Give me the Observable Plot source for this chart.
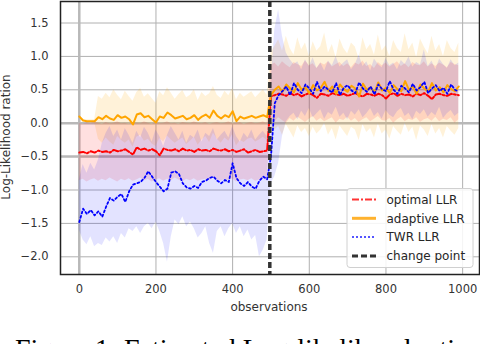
<!DOCTYPE html>
<html><head><meta charset="utf-8">
<script src="https://cdn.jsdelivr.net/npm/d3@7"></script>
<script src="https://cdn.jsdelivr.net/npm/@observablehq/plot@0.6"></script>
<style>
body{margin:0;background:#fff;width:480px;height:344px;overflow:hidden;}
#cap{font-family:"Liberation Serif",serif;font-size:28px;line-height:28px;margin:15px 0 0 15px;white-space:nowrap;color:#000;}
</style></head><body><div id="chart"></div><div id="cap">Figure 1: Estimated Log-likelihood ratio</div>
<script>
// observation index (sampled every 10 observations)
const obs = d3.range(0, 1000, 10);
const changePoint = 497;
const xTicks = [0, 200, 400, 600, 800, 1000];
const yTicks = [-2.0, -1.5, -1.0, -0.5, 0.0, 0.5, 1.0, 1.5];
const seriesNames = ["optimal LLR", "adaptive LLR", "TWR LLR", "change point"];

const optimal = [
-0.44,-0.43,-0.45,-0.42,-0.44,-0.41,-0.43,-0.42,-0.44,-0.40,
-0.42,-0.41,-0.39,-0.43,-0.47,-0.36,-0.40,-0.38,-0.41,-0.39,
-0.42,-0.48,-0.38,-0.40,-0.41,-0.39,-0.42,-0.38,-0.41,-0.40,
-0.43,-0.39,-0.41,-0.40,-0.42,-0.38,-0.40,-0.41,-0.39,-0.42,
-0.40,-0.43,-0.41,-0.39,-0.44,-0.42,-0.40,-0.43,-0.42,-0.41,
0.40,0.42,0.44,0.43,0.41,0.45,0.42,0.44,0.40,0.43,
0.45,0.42,0.38,0.44,0.43,0.41,0.45,0.43,0.42,0.44,
0.41,0.43,0.45,0.42,0.40,0.44,0.43,0.41,0.44,0.42,
0.37,0.43,0.45,0.41,0.44,0.42,0.43,0.40,0.44,0.42,
0.45,0.41,0.36,0.43,0.44,0.42,0.41,0.44,0.43,0.42];
const optimalLo = [
-0.86,-0.84,-0.88,-0.85,-0.83,-0.87,-0.84,-0.86,-0.82,-0.85,
-0.88,-0.84,-0.86,-0.83,-0.87,-0.85,-0.82,-0.86,-0.84,-0.88,
-0.85,-0.83,-0.87,-0.84,-0.86,-0.82,-0.85,-0.88,-0.84,-0.86,
-0.83,-0.87,-0.85,-0.84,-0.86,-0.82,-0.85,-0.87,-0.84,-0.86,
-0.83,-0.88,-0.85,-0.84,-0.86,-0.83,-0.87,-0.85,-0.84,-0.86,
0.06,0.02,0.08,0.04,0.00,0.07,0.03,0.09,0.05,0.01,
0.06,0.10,0.03,0.07,0.02,0.05,0.08,0.00,0.06,0.04,
0.09,0.03,0.07,0.01,0.05,0.08,0.02,0.06,0.10,0.04,
0.03,0.07,0.00,0.05,0.09,0.02,0.06,0.04,0.08,0.01,
0.05,0.07,0.03,0.09,0.02,0.06,0.04,0.08,0.00,0.05];
const optimalHi = [
0.00,-0.02,0.01,-0.01,0.02,0.00,-0.02,0.01,-0.01,0.00,
0.02,-0.01,0.00,-0.02,0.01,0.00,-0.01,0.02,0.00,-0.02,
0.01,-0.01,0.00,0.02,-0.01,0.00,-0.02,0.01,0.00,-0.01,
0.02,0.00,-0.01,0.01,-0.02,0.00,0.01,-0.01,0.00,0.02,
-0.01,0.00,0.01,-0.02,0.00,0.01,-0.01,0.00,0.02,-0.01,
0.86,0.90,0.84,0.92,0.87,0.83,0.91,0.88,0.85,0.93,
0.86,0.89,0.82,0.90,0.87,0.92,0.84,0.88,0.91,0.85,
0.89,0.83,0.90,0.87,0.93,0.85,0.88,0.82,0.91,0.86,
0.90,0.84,0.88,0.92,0.85,0.89,0.83,0.91,0.87,0.86,
0.92,0.84,0.89,0.85,0.90,0.87,0.83,0.91,0.88,0.86];

const adaptive = [
0.10,0.04,0.03,0.03,0.03,0.09,0.06,0.11,0.07,0.05,
0.12,0.08,0.10,0.06,-0.02,0.13,0.15,0.09,0.11,0.06,
0.01,0.10,0.08,0.16,0.12,0.07,0.09,0.11,0.06,0.08,
0.12,0.05,0.10,0.13,0.08,0.19,0.11,0.07,0.12,0.09,
0.18,0.03,0.10,0.07,0.09,0.11,0.08,0.10,0.12,0.09,
0.42,0.50,0.55,0.47,0.58,0.52,0.46,0.60,0.50,0.54,
0.45,0.57,0.49,0.53,0.62,0.48,0.55,0.44,0.58,0.51,
0.47,0.56,0.52,0.40,0.59,0.50,0.54,0.46,0.61,0.49,
0.53,0.45,0.57,0.51,0.48,0.63,0.50,0.55,0.44,0.58,
0.52,0.47,0.60,0.49,0.54,0.46,0.57,0.51,0.48,0.55];
const adaptiveLo = [
0.08,0.02,0.01,0.01,0.01,-0.24,-0.30,-0.22,-0.28,-0.33,
-0.20,-0.26,-0.30,-0.25,-0.36,-0.21,-0.18,-0.27,-0.24,-0.31,
-0.35,-0.23,-0.28,-0.19,-0.25,-0.30,-0.26,-0.22,-0.32,-0.27,
-0.21,-0.33,-0.25,-0.20,-0.29,-0.15,-0.24,-0.30,-0.22,-0.27,
-0.17,-0.34,-0.26,-0.29,-0.24,-0.22,-0.28,-0.25,-0.21,-0.26,
-0.15,-0.10,-0.05,-0.18,-0.02,-0.12,-0.22,-0.04,-0.14,-0.08,
-0.20,-0.06,-0.16,-0.10,0.00,-0.18,-0.08,-0.25,-0.04,-0.12,
-0.20,-0.06,-0.10,-0.26,-0.02,-0.14,-0.08,-0.22,-0.01,-0.16,
-0.10,-0.24,-0.05,-0.12,-0.18,0.00,-0.14,-0.06,-0.26,-0.04,
-0.10,-0.20,-0.02,-0.16,-0.08,-0.22,-0.05,-0.12,-0.18,-0.08];
const adaptiveHi = [
0.12,0.06,0.05,0.05,0.05,0.40,0.36,0.45,0.38,0.50,
0.42,0.35,0.48,0.40,0.33,0.46,0.52,0.39,0.44,0.37,
0.30,0.47,0.41,0.53,0.45,0.36,0.43,0.49,0.38,0.42,
0.50,0.34,0.46,0.40,0.44,0.55,0.42,0.37,0.48,0.41,
0.52,0.35,0.45,0.39,0.43,0.47,0.38,0.44,0.50,0.42,
1.05,1.15,1.25,1.08,1.30,1.12,1.02,1.28,1.10,1.20,
1.00,1.22,1.08,1.15,1.35,1.05,1.18,0.98,1.26,1.12,
1.04,1.20,1.14,0.96,1.28,1.10,1.18,1.02,1.32,1.08,
1.16,1.00,1.24,1.12,1.06,1.34,1.10,1.20,0.98,1.26,
1.14,1.04,1.30,1.08,1.18,1.00,1.24,1.12,1.06,1.20];

const twr = [
-1.48,-1.28,-1.36,-1.30,-1.38,-1.32,-1.40,-1.25,-1.12,-1.16,
-1.10,-1.06,-1.18,-1.02,-0.92,-0.90,-0.88,-0.82,-0.72,-0.80,
-0.88,-0.95,-1.02,-0.98,-0.74,-0.72,-0.76,-0.90,-0.96,-0.98,
-0.94,-0.97,-0.88,-0.86,-0.82,-0.80,-0.86,-0.90,-0.85,-0.88,
-0.60,-0.82,-0.90,-0.94,-0.88,-0.95,-0.98,-0.86,-0.80,-0.84,
-0.50,0.30,0.42,0.48,0.55,0.42,0.60,0.50,0.45,0.58,
0.52,0.44,0.62,0.48,0.55,0.50,0.46,0.60,0.42,0.53,
0.57,0.49,0.45,0.61,0.52,0.47,0.55,0.43,0.58,0.51,
0.48,0.63,0.50,0.44,0.56,0.52,0.46,0.59,0.49,0.54,
0.62,0.45,0.52,0.57,0.48,0.53,0.44,0.58,0.50,0.47];
const twrLo = [
-1.60,-1.75,-1.82,-1.70,-1.85,-1.80,-1.83,-1.72,-1.78,-1.70,
-1.80,-1.65,-1.72,-1.58,-1.62,-1.55,-1.65,-1.55,-1.50,-1.58,
-1.48,-1.62,-1.80,-2.08,-1.70,-1.45,-1.52,-1.40,-1.55,-1.48,
-1.58,-1.72,-1.65,-1.55,-1.80,-1.95,-1.62,-1.55,-1.70,-1.58,
-1.50,-1.65,-1.55,-1.70,-1.60,-1.75,-1.68,-2.00,-1.90,-1.75,
-0.90,-0.80,-0.60,-0.20,0.02,0.10,0.15,0.05,0.18,0.10,
0.22,0.08,0.14,0.20,0.06,0.16,0.12,0.24,0.09,0.15,
0.05,0.18,0.12,0.20,0.08,0.14,0.22,0.10,0.16,0.06,
0.19,0.12,0.08,0.17,0.22,0.10,0.15,0.05,0.18,0.13,
0.20,0.09,0.16,0.11,0.24,0.07,0.14,0.19,0.10,0.15];
const twrHi = [
-0.85,-0.62,-0.75,-0.60,-0.70,-0.55,-0.30,-0.15,-0.05,-0.20,
-0.10,-0.25,-0.08,-0.18,-0.30,-0.12,-0.22,-0.06,-0.15,-0.28,
-0.10,-0.20,-0.35,-0.18,-0.05,-0.15,-0.25,-0.12,-0.30,-0.18,
-0.22,-0.10,-0.28,-0.15,-0.20,-0.08,-0.25,-0.18,-0.12,-0.22,
-0.05,-0.20,-0.28,-0.15,-0.22,-0.10,-0.25,-0.18,-0.12,-0.20,
0.60,1.40,1.70,1.30,1.05,0.95,0.88,0.92,0.80,0.95,
0.85,0.98,0.82,0.90,0.78,0.93,0.86,1.00,0.84,0.90,
0.95,0.80,0.88,1.02,0.85,0.92,0.78,0.96,0.88,0.83,
0.97,0.86,0.90,0.80,0.94,0.88,0.99,0.84,0.91,0.87,
1.10,0.85,0.93,0.80,0.96,0.88,0.82,0.95,0.86,0.90];

const table = obs.map((o, i) => ({
  obs: o,
  opt: optimal[i], optLo: optimalLo[i], optHi: optimalHi[i],
  ada: adaptive[i], adaLo: adaptiveLo[i], adaHi: adaptiveHi[i],
  twr: twr[i], twrLo: twrLo[i], twrHi: twrHi[i]
}));

const fmtX = d => String(d);
const fmtY = d => d.toFixed(1).replace("-", "\u2212");

const plot = Plot.plot({
  width: 480, height: 320,
  marginLeft: 60, marginRight: 1, marginTop: 1, marginBottom: 46,
  style: {fontFamily: "DejaVu Sans", fontSize: "11.5px", color: "#333", background: "white"},
  x: {domain: [-49, 1044]},
  y: {domain: [-2.265, 1.822]},
  marks: [
    Plot.gridX(xTicks, {stroke: "#b0b0b0", strokeOpacity: 1, strokeWidth: 1}),
    Plot.gridY(yTicks, {stroke: "#b0b0b0", strokeOpacity: 1, strokeWidth: 1}),
    Plot.ruleX([0], {stroke: "#b8b8b8", strokeWidth: 2.5}),
    Plot.ruleY([0, -0.5], {stroke: "#b8b8b8", strokeWidth: 2.5}),
    Plot.areaY(table, {x: "obs", y1: "adaLo", y2: "adaHi", fill: "#ffa500", fillOpacity: 0.15}),
    Plot.areaY(table, {x: "obs", y1: "optLo", y2: "optHi", fill: "#ff0000", fillOpacity: 0.12}),
    Plot.areaY(table, {x: "obs", y1: "twrLo", y2: "twrHi", fill: "#0000ff", fillOpacity: 0.11}),
    Plot.line(table, {x: "obs", y: "opt", stroke: "#ff0000", strokeWidth: 2, strokeDasharray: "6,2,2,2"}),
    Plot.line(table, {x: "obs", y: "ada", stroke: "#ffa500", strokeWidth: 2}),
    Plot.line(table, {x: "obs", y: "twr", stroke: "#0000ff", strokeWidth: 1.8, strokeDasharray: "2,2.5"}),
    Plot.ruleX([changePoint], {stroke: "#333", strokeWidth: 3.5, strokeDasharray: "6,3"}),
    Plot.axisX(xTicks, {tickSize: 0, tickPadding: 10, label: null, tickFormat: fmtX}),
    Plot.axisY(yTicks, {tickSize: 0, tickPadding: 12, label: null, tickFormat: fmtY}),
    Plot.frame({stroke: "#222", strokeWidth: 1.5})
  ]
});
document.getElementById("chart").appendChild(plot);

const svg = d3.select(plot);
svg.append("text").attr("x", 269).attr("y", 311).attr("text-anchor", "middle")
  .attr("fill", "#333").style("font-size", "12px").text("observations");
svg.append("text").attr("transform", "translate(10,137) rotate(-90)").attr("text-anchor", "middle")
  .attr("fill", "#333").style("font-size", "12px").text("Log-Likelihood ration");

const legendStyles = [
  {stroke: "#ff3333", width: 1.8, dash: "7,2,2,2"},
  {stroke: "#ffb22e", width: 3, dash: null},
  {stroke: "#5555ff", width: 2, dash: "2,2"},
  {stroke: "#333", width: 3, dash: "6,3"}
];
const lg = svg.append("g").attr("text-anchor", "start");
lg.append("rect").attr("x", 347).attr("y", 188.5).attr("width", 126).attr("height", 79).attr("rx", 3)
  .attr("fill", "white").attr("fill-opacity", 0.85).attr("stroke", "#d0d0d0");
seriesNames.forEach((name, i) => {
  const y = 199.5 + i * 18.8;
  const s = legendStyles[i];
  const ln = lg.append("line").attr("x1", 352).attr("x2", 376).attr("y1", y).attr("y2", y)
    .attr("stroke", s.stroke).attr("stroke-width", s.width);
  if (s.dash) ln.attr("stroke-dasharray", s.dash);
  lg.append("text").attr("x", 386.5).attr("y", y).attr("dy", "0.35em").attr("fill", "#262626")
    .attr("text-anchor", "start").style("font-size", "12px").text(name);
});
</script></body></html>
